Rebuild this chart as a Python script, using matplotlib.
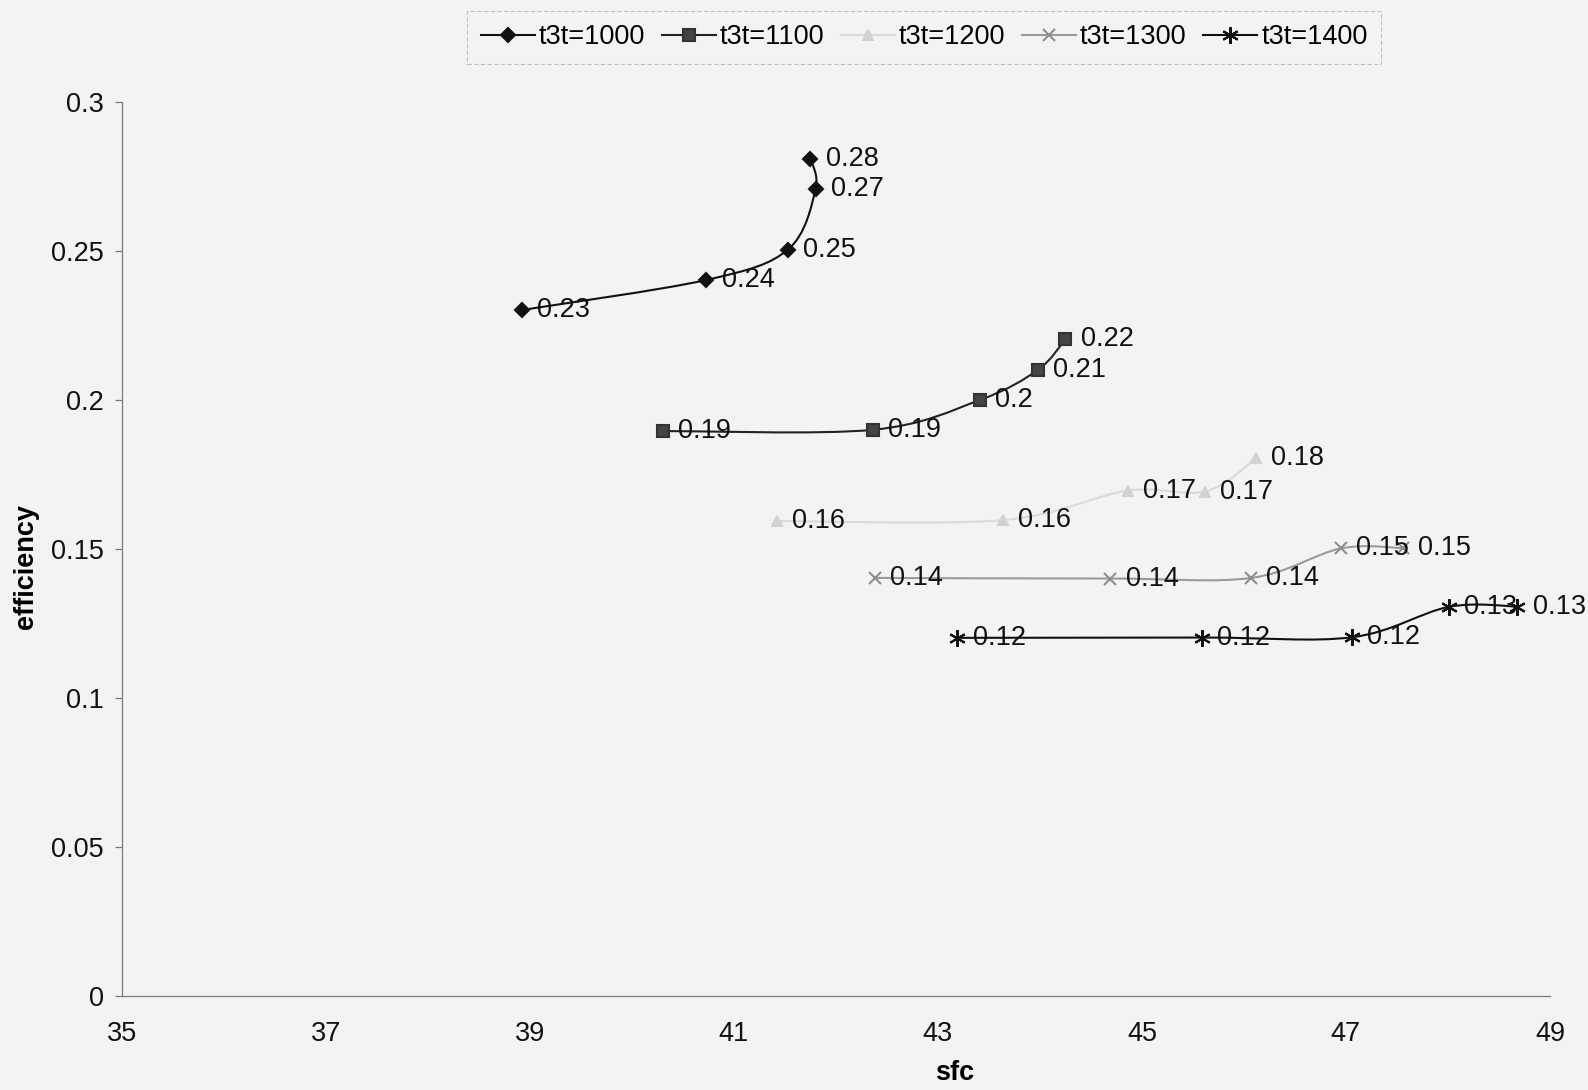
import matplotlib
matplotlib.use("Agg")
import matplotlib.pyplot as plt
import numpy as np
from matplotlib.path import Path
from matplotlib.patches import PathPatch
from matplotlib.lines import Line2D

plt.rcParams['font.family'] = ['Liberation Sans', 'DejaVu Sans']

series_names = ["t3t=1000", "t3t=1100", "t3t=1200", "t3t=1300", "t3t=1400"]

sfc_1000 = [38.92, 40.73, 41.53, 41.80, 41.75]
eff_1000 = [0.2302, 0.2403, 0.2505, 0.2707, 0.2810]

sfc_1100 = [40.30, 42.36, 43.41, 43.98, 44.25]
eff_1100 = [0.1896, 0.1900, 0.2000, 0.2101, 0.2204]

sfc_1200 = [41.42, 43.64, 44.86, 45.62, 46.12]
eff_1200 = [0.1594, 0.1597, 0.1696, 0.1693, 0.1804]

sfc_1300 = [42.38, 44.69, 46.07, 46.95, 47.56]
eff_1300 = [0.1403, 0.1401, 0.1403, 0.1502, 0.1503]

sfc_1400 = [43.19, 45.59, 47.06, 48.01, 48.68]
eff_1400 = [0.1202, 0.1203, 0.1204, 0.1306, 0.1307]

x_ticks = [35, 37, 39, 41, 43, 45, 47, 49]
y_ticks = [0, 0.05, 0.1, 0.15, 0.2, 0.25, 0.3]
y_tick_labels = ["0", "0.05", "0.1", "0.15", "0.2", "0.25", "0.3"]

styles = [
    dict(line="#111111", mfc="#111111", mec="#111111", marker="D", ms=7.5),
    dict(line="#222222", mfc="#444444", mec="#333333", marker="s", ms=9),
    dict(line="#dadada", mfc="#d2d2d2", mec="#d2d2d2", marker="^", ms=7),
    dict(line="#9a9a9a", mfc="#9a9a9a", mec="#8e8e8e", marker="x", ms=8),
    dict(line="#111111", mfc="#111111", mec="#111111", marker=(6, 2, 0), ms=12),
]

data = [(sfc_1000, eff_1000), (sfc_1100, eff_1100), (sfc_1200, eff_1200),
        (sfc_1300, eff_1300), (sfc_1400, eff_1400)]

FS = 19.5
BG = "#f3f3f2"
fig = plt.figure(figsize=(15.88, 10.90), dpi=100, facecolor=BG)
ax = fig.add_axes([0.0768, 0.0862, 0.976 - 0.0768, 0.9064 - 0.0862])
ax.set_facecolor(BG)
ax.set_xlim(35, 49)
ax.set_ylim(0, 0.3)


def smooth_path(xs, ys):
    """Excel-style smoothed line: cubic Bezier through points, built in display space."""
    pts = ax.transData.transform(np.column_stack([xs, ys]))
    n = len(pts)
    verts = [pts[0]]
    codes = [Path.MOVETO]
    for i in range(n - 1):
        p0 = pts[i - 1] if i > 0 else pts[i]
        p1 = pts[i]
        p2 = pts[i + 1]
        p3 = pts[i + 2] if i + 2 < n else pts[i + 1]
        c1 = p1 + (p2 - p0) / 6.0
        c2 = p2 - (p3 - p1) / 6.0
        verts += [c1, c2, p2]
        codes += [Path.CURVE4] * 3
    inv = ax.transData.inverted()
    return Path(inv.transform(np.array(verts)), codes)


def fmt(v):
    s = f"{v:.2f}"
    return s.rstrip("0") if s.endswith("0") else s


handles = []
for (xs, ys), st, name in zip(data, styles, series_names):
    patch = PathPatch(smooth_path(xs, ys), facecolor="none", edgecolor=st["line"],
                      lw=1.5, zorder=2)
    ax.add_patch(patch)
    ax.plot(xs, ys, linestyle="none", marker=st["marker"], ms=st["ms"],
            mfc=st["mfc"], mec=st["mec"], mew=1.5, zorder=3)
    for x, y in zip(xs, ys):
        ax.annotate(fmt(y), (x, y), xytext=(11, 0), textcoords="offset points",
                    va="center", ha="left", fontsize=FS, color="#111111", zorder=4)
    handles.append(Line2D([], [], color=st["line"], lw=1.5, marker=st["marker"],
                          ms=st["ms"], mfc=st["mfc"], mec=st["mec"], mew=1.5))

for s in ["top", "right"]:
    ax.spines[s].set_visible(False)
for s in ["left", "bottom"]:
    ax.spines[s].set_color("#7a7a7a")
    ax.spines[s].set_linewidth(0.9)

ax.set_xticks(x_ticks)
ax.set_xticklabels([str(t) for t in x_ticks])
ax.set_yticks(y_ticks)
ax.set_yticklabels(y_tick_labels)
ax.tick_params(axis="x", length=0, pad=18, labelsize=FS, colors="#111111")
ax.tick_params(axis="y", length=5, width=0.9, color="#7a7a7a", pad=8,
               labelsize=FS, labelcolor="#111111")

ax.set_ylabel("efficiency", fontsize=FS, fontweight="bold")
ax.yaxis.set_label_coords(-0.058, 0.48)
ax.set_xlabel("sfc", fontsize=FS, fontweight="bold")
ax.xaxis.set_label_coords(0.583, -0.072)

leg = fig.legend(handles, series_names, loc="center", bbox_to_anchor=(0.582, 0.966),
                 ncol=5, fontsize=FS, frameon=True, fancybox=False,
                 handlelength=2.0, handletextpad=0.15, columnspacing=0.6,
                 borderpad=0.5, edgecolor="#b5b5b5", facecolor=BG)
leg.get_frame().set_linewidth(0.8)
leg.get_frame().set_linestyle((0, (4, 2)))

fig.savefig("out.png", dpi=100, facecolor=BG)
